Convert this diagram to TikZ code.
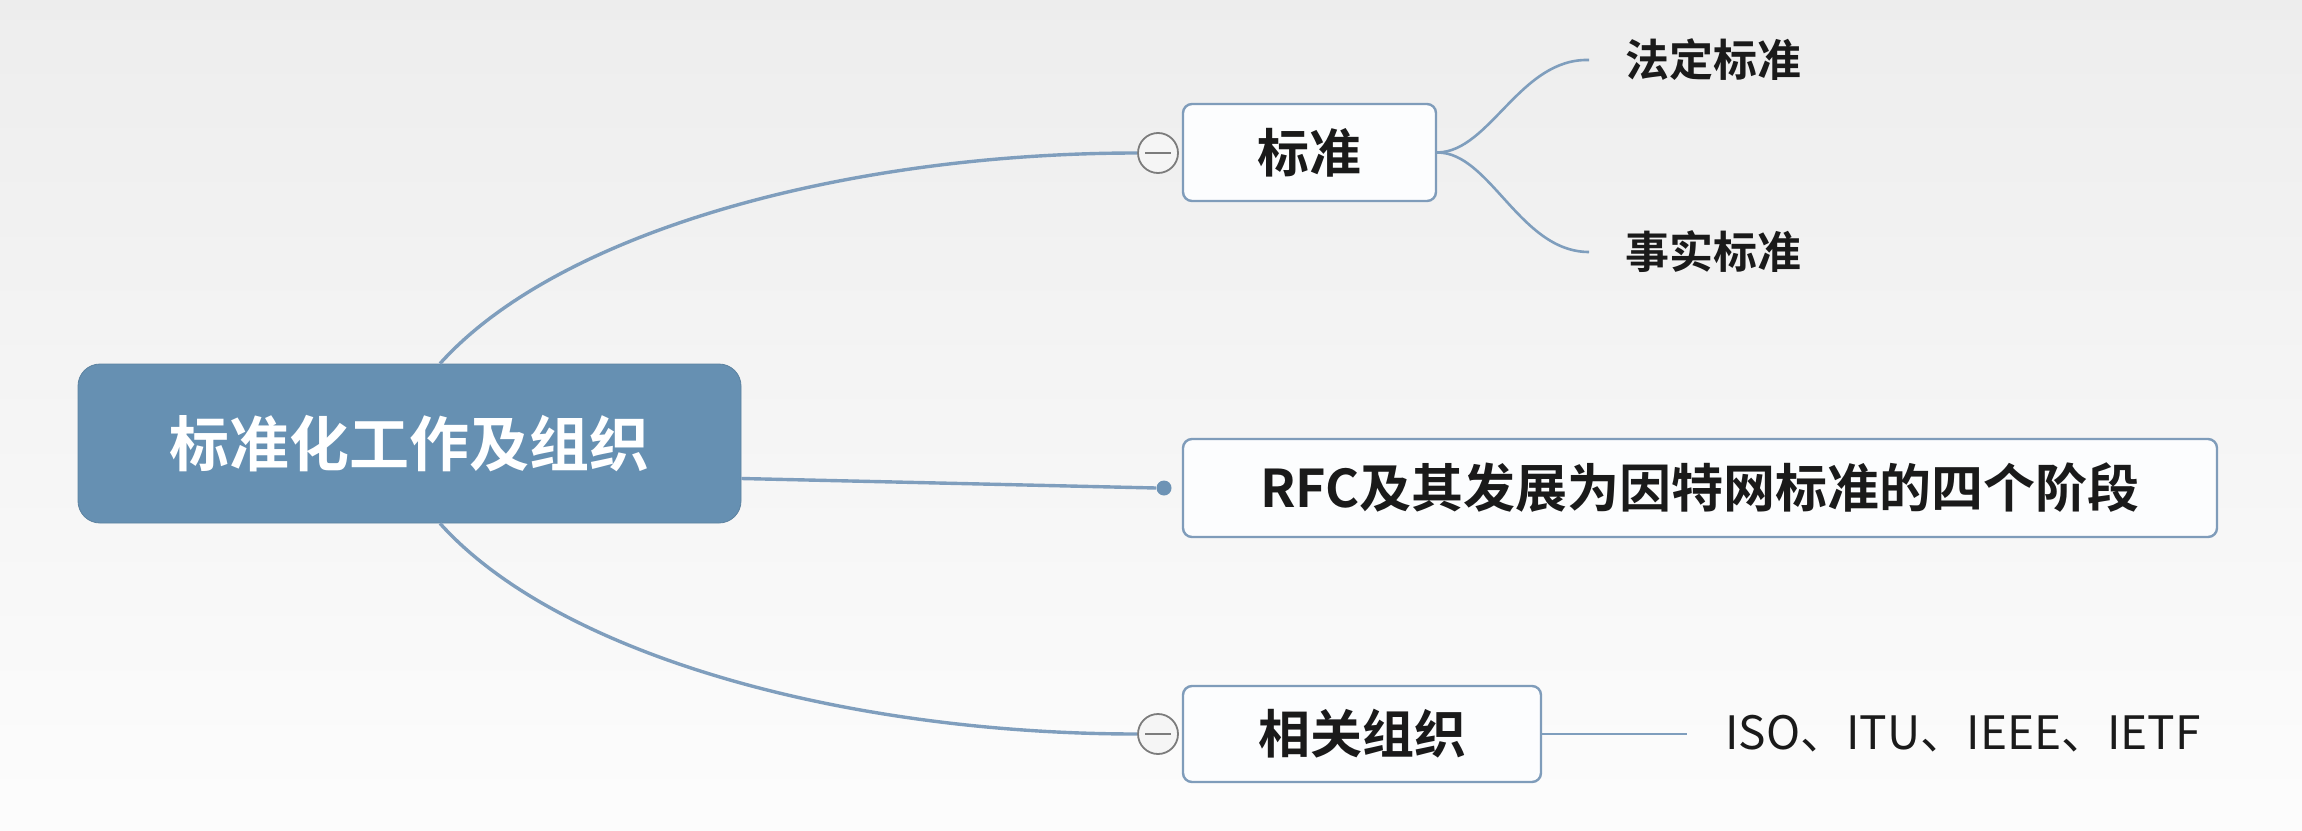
\documentclass[tikz,border=0pt]{standalone}
\usepackage{fontspec}
\newfontfamily\cjk{Noto Sans CJK SC}[BoldFont={Noto Sans CJK SC Bold}]
\definecolor{mainfill}{HTML}{6690B2}
\definecolor{linec}{HTML}{7F9EBD}
\definecolor{boxborder}{HTML}{7F9CBA}
\definecolor{boxfill}{HTML}{FCFDFE}
\definecolor{circc}{HTML}{7C7C7C}
\definecolor{dotc}{HTML}{6D93B5}
\definecolor{txt}{HTML}{1A1A1A}
\tikzset{
  mainnode/.style={fill=mainfill, draw=mainfill!90!black, line width=0.4pt, rounded corners=11pt,
    minimum width=331.5pt, minimum height=79.5pt, inner sep=0pt, text=white,
    font=\cjk\bfseries\fontsize{30}{36}\selectfont},
  subnode/.style={fill=boxfill, draw=boxborder, line width=1.2pt, rounded corners=4.5pt,
    inner sep=0pt, text=txt, font=\cjk\bfseries\fontsize{26}{32}\selectfont},
  leaflabel/.style={inner xsep=18pt, inner ysep=0pt, text=txt, anchor=west,
    font=\cjk\bfseries\fontsize{22}{26}\selectfont},
  isolabel/.style={inner xsep=19pt, inner ysep=0pt, text=txt, anchor=west,
    font=\cjk\fontsize{23}{27}\selectfont},
  conn/.style={draw=linec, line width=1.7pt},
  leafconn/.style={draw=linec, line width=1.3pt},
  togglec/.style={circle, draw=circc, fill=white!96!black, line width=0.9pt, minimum size=20pt, inner sep=0pt},
  dotnode/.style={circle, fill=dotc, minimum size=7.5pt, inner sep=0pt}
}
\begin{document}
\begin{tikzpicture}[x=0.5pt,y=-0.5pt]
\useasboundingbox (0,0) rectangle (2302,830);
\shade[top color=black!7, bottom color=black!1] (0,0) rectangle (2302,830);

% nodes
\node[mainnode] (main) at (409.5,443.5) {标准化工作及组织};
\node[subnode, minimum width=126.5pt, minimum height=48.5pt] (std) at (1309.5,152.5) {标准};
\node[subnode, minimum width=517pt, minimum height=49pt] (rfc) at (1700,488) {RFC及其发展为因特网标准的四个阶段};
\node[subnode, minimum width=179pt, minimum height=48pt] (org) at (1362,734) {相关组织};

\node[togglec] (t1) at (1158,153) {};
\node[togglec] (t2) at (1158,734) {};
\draw[circc, line width=0.9pt] ([xshift=-6.5pt]t1.center) -- ([xshift=6.5pt]t1.center);
\draw[circc, line width=0.9pt] ([xshift=-6.5pt]t2.center) -- ([xshift=6.5pt]t2.center);
\node[dotnode] (d1) at (1164,488) {};

\node[leaflabel] (fd) at (1589,60) {法定标准};
\node[leaflabel] (ss) at (1589,252) {事实标准};
\node[isolabel] (iso) at (1687,734) {ISO、ITU、IEEE、IETF};

% connectors
\path[conn] ([xshift=15.25pt]main.north) .. controls (560,230) and (850,153) .. (t1.west);
\path[conn] ([xshift=15.25pt]main.south) .. controls (560,657) and (850,734) .. (t2.west);
\path[conn] ([yshift=-17.5pt]main.east) -- (d1.west);

\path[leafconn] (std.east) .. controls (1490,152) and (1520,58) .. (fd.west);
\path[leafconn] (std.east) .. controls (1490,152) and (1520,252) .. (ss.west);
\path[leafconn] (org.east) -- (iso.west);
\end{tikzpicture}
\end{document}
